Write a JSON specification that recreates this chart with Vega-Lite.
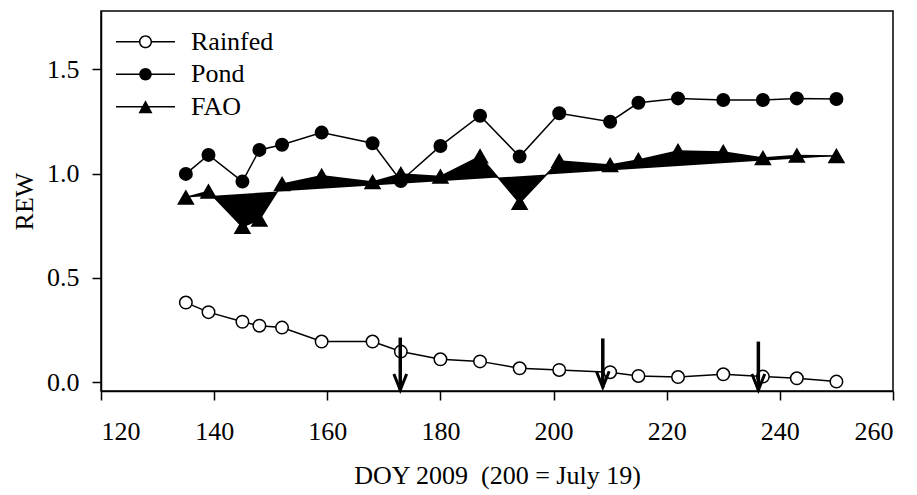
{
  "$schema": "https://vega.github.io/schema/vega-lite/v6.json",
  "width": 792,
  "height": 380,
  "autosize": {"type": "none"},
  "padding": {"left": 101, "top": 11, "right": 24, "bottom": 104},
  "background": "white",
  "config": {
    "view": {"stroke": "black", "strokeWidth": 1.5},
    "axis": {
      "grid": false,
      "domainColor": "black",
      "domainWidth": 1.5,
      "tickColor": "black",
      "tickWidth": 1.5,
      "tickSize": 9,
      "labelFont": "Liberation Serif",
      "labelFontSize": 26,
      "labelColor": "black",
      "titleFont": "Liberation Serif",
      "titleFontSize": 26,
      "titleFontWeight": "normal",
      "titleColor": "black"
    }
  },
  "datasets": {
    "main": [
      {"doy": 135, "rew": 0.382, "series": "Rainfed"},
      {"doy": 139, "rew": 0.336, "series": "Rainfed"},
      {"doy": 145, "rew": 0.29, "series": "Rainfed"},
      {"doy": 148, "rew": 0.271, "series": "Rainfed"},
      {"doy": 152, "rew": 0.262, "series": "Rainfed"},
      {"doy": 159, "rew": 0.195, "series": "Rainfed"},
      {"doy": 168, "rew": 0.195, "series": "Rainfed"},
      {"doy": 173, "rew": 0.147, "series": "Rainfed"},
      {"doy": 180, "rew": 0.11, "series": "Rainfed"},
      {"doy": 187, "rew": 0.1, "series": "Rainfed"},
      {"doy": 194, "rew": 0.067, "series": "Rainfed"},
      {"doy": 201, "rew": 0.059, "series": "Rainfed"},
      {"doy": 210, "rew": 0.048, "series": "Rainfed"},
      {"doy": 215, "rew": 0.03, "series": "Rainfed"},
      {"doy": 222, "rew": 0.025, "series": "Rainfed"},
      {"doy": 230, "rew": 0.038, "series": "Rainfed"},
      {"doy": 237, "rew": 0.027, "series": "Rainfed"},
      {"doy": 243, "rew": 0.019, "series": "Rainfed"},
      {"doy": 250, "rew": 0.003, "series": "Rainfed"},
      {"doy": 135, "rew": 0.999, "series": "Pond"},
      {"doy": 139, "rew": 1.09, "series": "Pond"},
      {"doy": 145, "rew": 0.962, "series": "Pond"},
      {"doy": 148, "rew": 1.114, "series": "Pond"},
      {"doy": 152, "rew": 1.139, "series": "Pond"},
      {"doy": 159, "rew": 1.197, "series": "Pond"},
      {"doy": 168, "rew": 1.146, "series": "Pond"},
      {"doy": 173, "rew": 0.965, "series": "Pond"},
      {"doy": 180, "rew": 1.133, "series": "Pond"},
      {"doy": 187, "rew": 1.278, "series": "Pond"},
      {"doy": 194, "rew": 1.082, "series": "Pond"},
      {"doy": 201, "rew": 1.29, "series": "Pond"},
      {"doy": 210, "rew": 1.249, "series": "Pond"},
      {"doy": 215, "rew": 1.34, "series": "Pond"},
      {"doy": 222, "rew": 1.361, "series": "Pond"},
      {"doy": 230, "rew": 1.353, "series": "Pond"},
      {"doy": 237, "rew": 1.353, "series": "Pond"},
      {"doy": 243, "rew": 1.361, "series": "Pond"},
      {"doy": 250, "rew": 1.358, "series": "Pond"},
      {"doy": 135, "rew": 0.886, "series": "FAO"},
      {"doy": 139, "rew": 0.915, "series": "FAO"},
      {"doy": 145, "rew": 0.745, "series": "FAO"},
      {"doy": 148, "rew": 0.78, "series": "FAO"},
      {"doy": 152, "rew": 0.95, "series": "FAO"},
      {"doy": 159, "rew": 0.99, "series": "FAO"},
      {"doy": 168, "rew": 0.96, "series": "FAO"},
      {"doy": 173, "rew": 0.998, "series": "FAO"},
      {"doy": 180, "rew": 0.987, "series": "FAO"},
      {"doy": 187, "rew": 1.083, "series": "FAO"},
      {"doy": 194, "rew": 0.86, "series": "FAO"},
      {"doy": 201, "rew": 1.061, "series": "FAO"},
      {"doy": 210, "rew": 1.042, "series": "FAO"},
      {"doy": 215, "rew": 1.066, "series": "FAO"},
      {"doy": 222, "rew": 1.109, "series": "FAO"},
      {"doy": 230, "rew": 1.104, "series": "FAO"},
      {"doy": 237, "rew": 1.075, "series": "FAO"},
      {"doy": 243, "rew": 1.087, "series": "FAO"},
      {"doy": 250, "rew": 1.085, "series": "FAO"}
    ],
    "arrows": [
      {"doy": 172.9, "top": 0.214, "tip": -0.037},
      {"doy": 208.7, "top": 0.21, "tip": -0.024},
      {"doy": 236.2, "top": 0.195, "tip": -0.037}
    ]
  },
  "layer": [
    {
      "data": {"name": "main"},
      "transform": [{"filter": "datum.series === 'FAO'"}],
      "mark": {"type": "line", "fill": "black", "stroke": "black", "strokeWidth": 1.5},
      "encoding": {
        "x": {
          "field": "doy", "type": "quantitative",
          "scale": {"domain": [120, 260], "nice": false, "zero": false},
          "axis": {
            "values": [120, 140, 160, 180, 200, 220, 240, 260],
            "labelPadding": 18,
            "title": "DOY 2009 \u00a0(200 = July 19)",
            "titleBaseline": "alphabetic",
            "titleY": 92.7
          }
        },
        "y": {
          "field": "rew", "type": "quantitative",
          "scale": {"domain": [-0.042, 1.78], "nice": false, "zero": false},
          "axis": {
            "values": [0, 0.5, 1, 1.5],
            "format": ".1f",
            "labelPadding": 13,
            "title": "REW",
            "titleAngle": -90,
            "titleX": -69,
            "titleY": 190,
            "titleAlign": "center",
            "titleBaseline": "alphabetic"
          }
        }
      }
    },
    {
      "data": {"name": "main"},
      "transform": [{"filter": "datum.series !== 'FAO'"}],
      "mark": {"type": "line", "stroke": "black", "strokeWidth": 1.5},
      "encoding": {
        "x": {"field": "doy", "type": "quantitative"},
        "y": {"field": "rew", "type": "quantitative"},
        "detail": {"field": "series"}
      }
    },
    {
      "data": {"name": "main"},
      "mark": {"type": "point", "filled": true, "stroke": "black", "strokeWidth": 1.5, "opacity": 1},
      "encoding": {
        "x": {"field": "doy", "type": "quantitative"},
        "y": {"field": "rew", "type": "quantitative"},
        "shape": {"condition": {"test": "datum.series === 'FAO'", "value": "triangle-up"}, "value": "circle"},
        "fill": {"condition": {"test": "datum.series === 'Rainfed'", "value": "white"}, "value": "black"},
        "size": {"condition": {"test": "datum.series === 'FAO'", "value": 225}, "value": 156}
      }
    },
    {
      "data": {"name": "main"},
      "transform": [{"filter": "datum.doy < 0"}],
      "mark": {"type": "point", "filled": true, "fill": "black", "strokeWidth": 0, "opacity": 1, "size": 156},
      "encoding": {
        "x": {"field": "doy", "type": "quantitative"},
        "y": {"field": "rew", "type": "quantitative"},
        "shape": {
          "field": "series", "type": "nominal",
          "scale": {
            "domain": ["Rainfed", "Pond", "FAO"],
            "range": [
              "M-4.72,-0.12H-1.0V0.12H-4.72Z M1.0,-0.12H4.72V0.12H1.0Z M-1.05,0A1.05,1.05 0 1,1 1.05,0A1.05,1.05 0 1,1 -1.05,0Z M-0.81,0A0.81,0.81 0 1,0 0.81,0A0.81,0.81 0 1,0 -0.81,0Z",
              "M-4.72,-0.12H4.72V0.12H-4.72Z M-1.0,0A1.0,1.0 0 1,1 1.0,0A1.0,1.0 0 1,1 -1.0,0Z",
              "M-4.72,-0.12H4.72V0.12H-4.72Z M0,-1.04L1.12,1.04L-1.12,1.04Z"
            ]
          },
          "legend": {
            "title": null, "orient": "none", "legendX": 31.5, "legendY": 17.7,
            "padding": 0, "rowPadding": 6.5, "labelOffset": 32.5,
            "labelFont": "Liberation Serif", "labelFontSize": 26, "labelColor": "black",
            "symbolSize": 156, "symbolFillColor": "black",
            "symbolStrokeWidth": 0, "symbolOpacity": 1
          }
        }
      }
    },
    {
      "data": {"name": "arrows"},
      "mark": {"type": "rule", "stroke": "black", "strokeWidth": 3.5},
      "encoding": {
        "x": {"field": "doy", "type": "quantitative"},
        "y": {"field": "top", "type": "quantitative"},
        "y2": {"field": "tip"}
      }
    },
    {
      "data": {"name": "arrows"},
      "mark": {"type": "point", "shape": "M-1.6,-4L0,0L1.6,-4", "size": 64, "filled": false, "stroke": "black", "strokeWidth": 3, "opacity": 1},
      "encoding": {
        "x": {"field": "doy", "type": "quantitative"},
        "y": {"field": "tip", "type": "quantitative"}
      }
    }
  ]
}
